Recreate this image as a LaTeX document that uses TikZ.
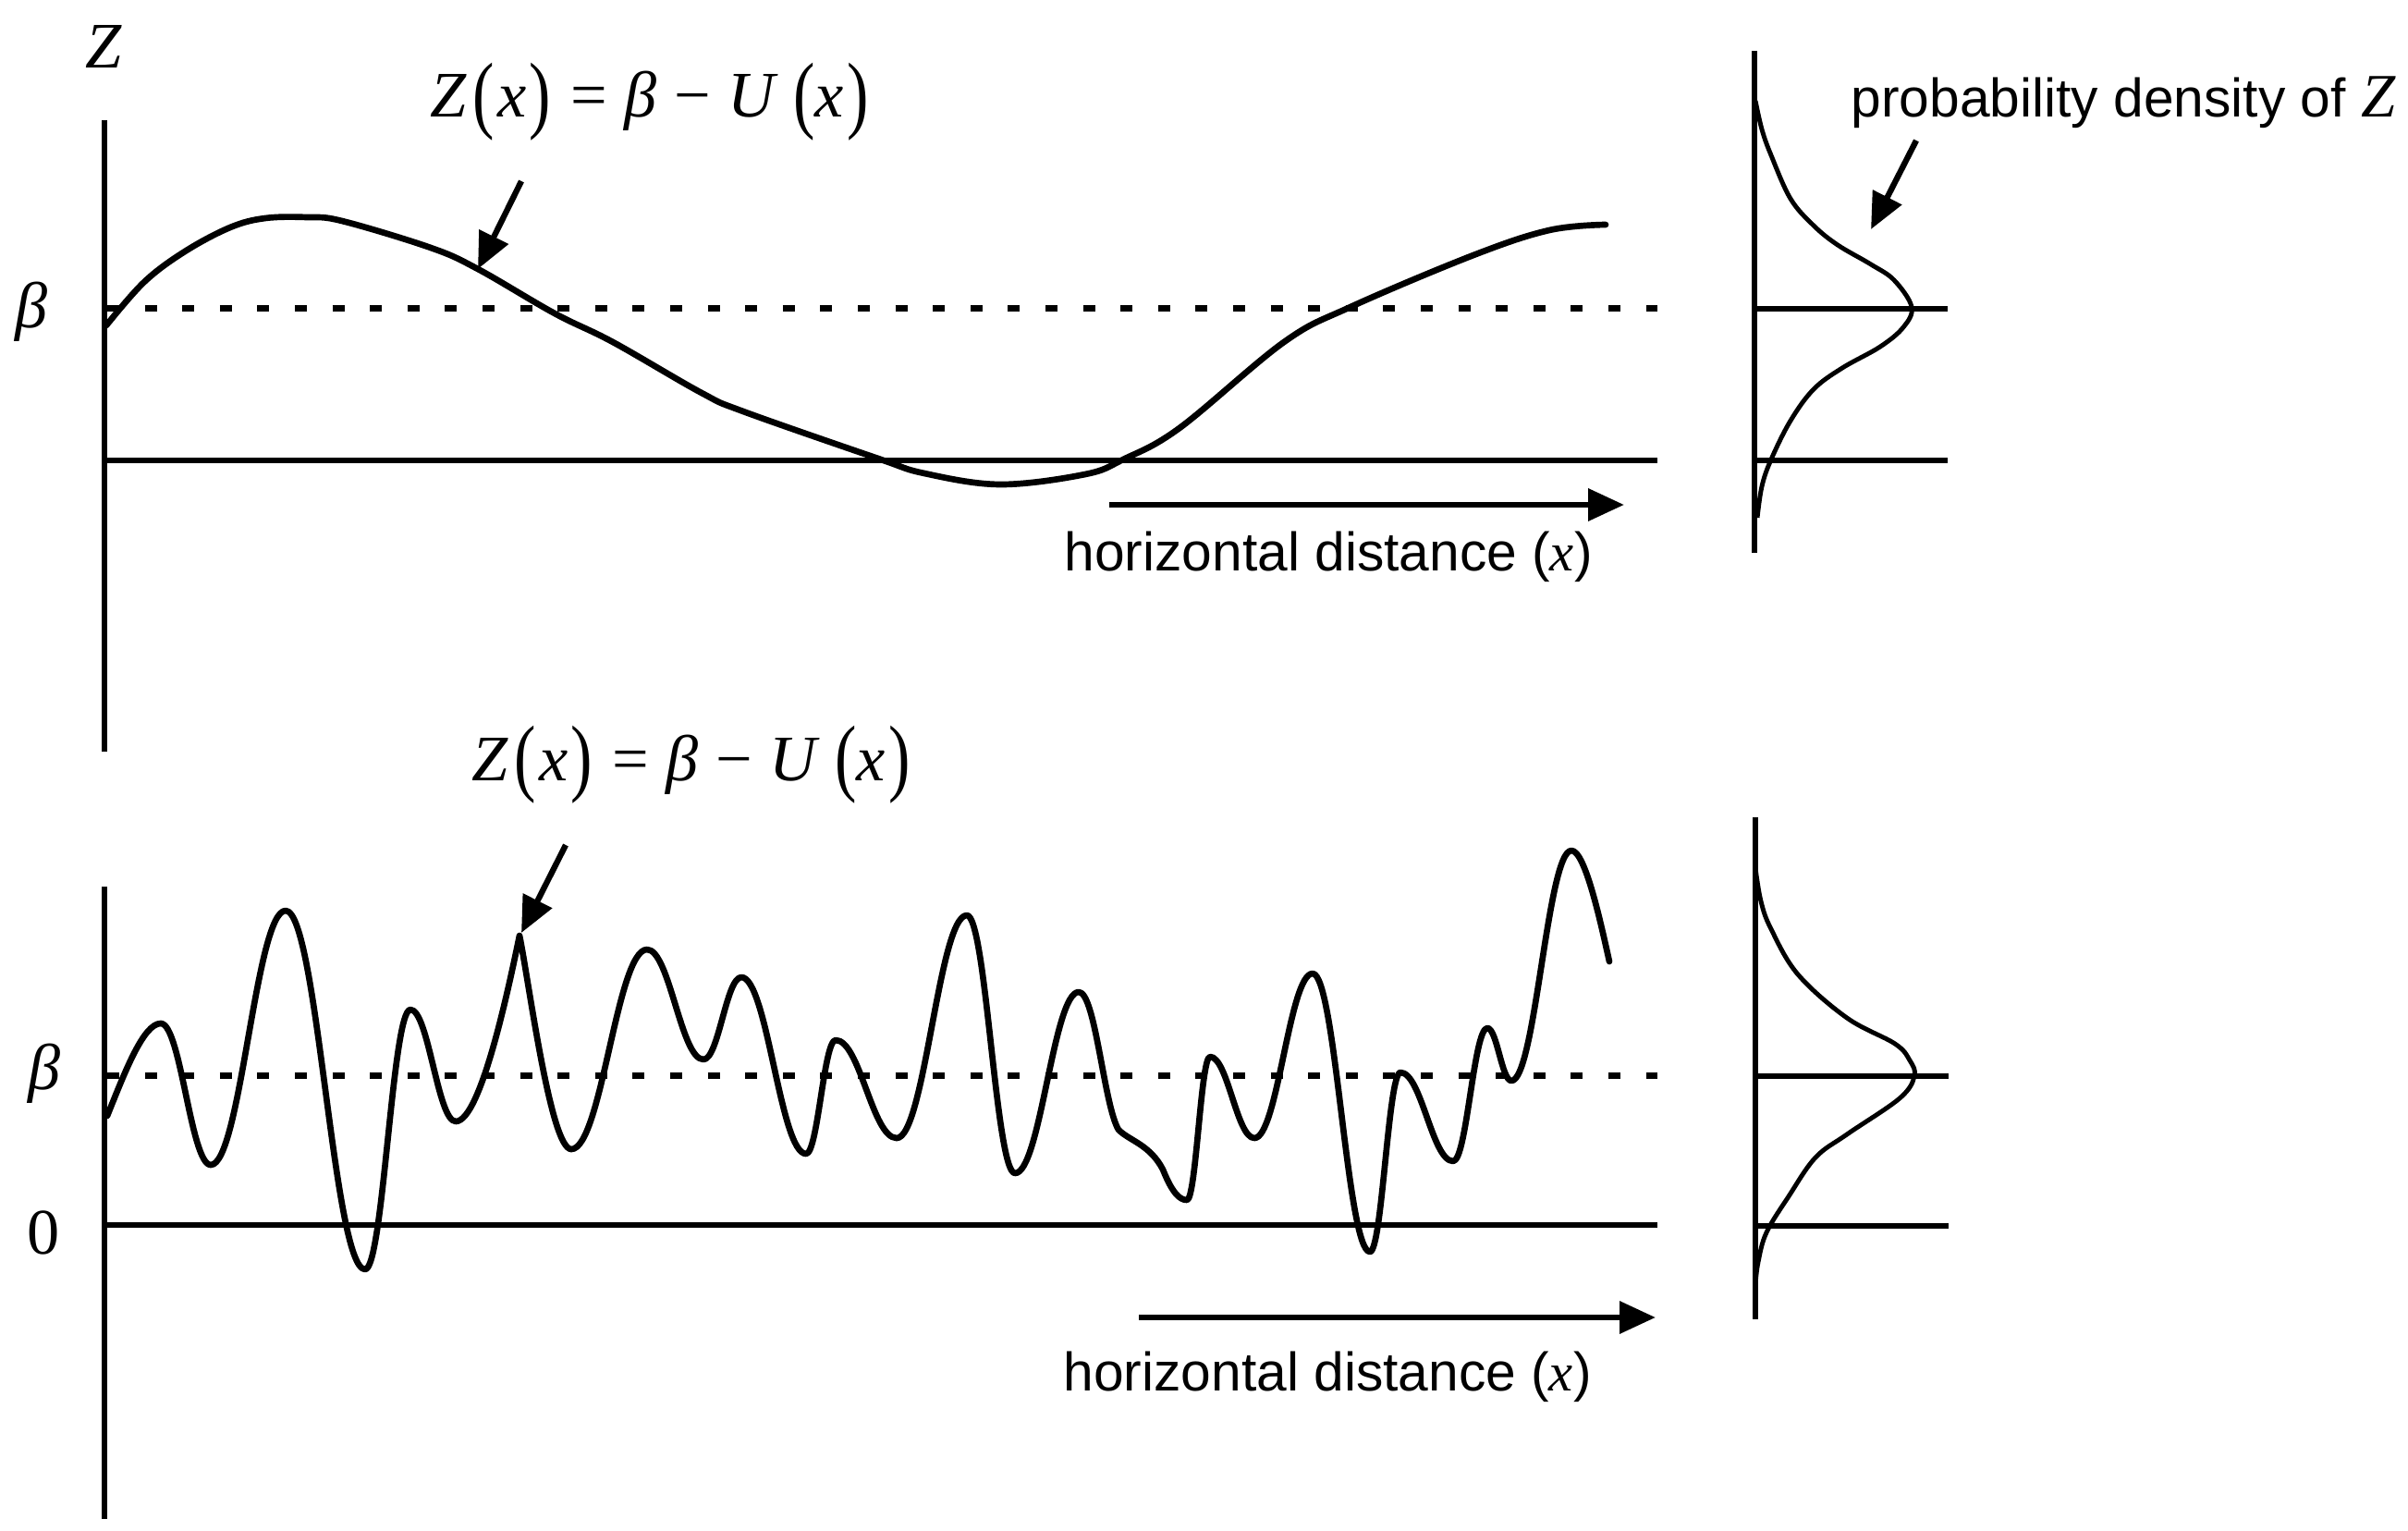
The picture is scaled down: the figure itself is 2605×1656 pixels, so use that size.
\documentclass[tikz,border=0pt]{standalone}
\usepackage{graphicx}
\usepackage{fontspec}
\setmainfont{Liberation Sans}
\newfontfamily\tms{Liberation Serif}
\usetikzlibrary{arrows.meta}
\newcommand{\mi}[1]{{\tms\itshape #1}}
\newcommand{\lpar}{\raisebox{-0.08em}{\scalebox{1}[1.32]{\tms(}}}
\newcommand{\rpar}{\raisebox{-0.08em}{\scalebox{1}[1.32]{\tms)}}}
\newcommand{\formula}{\mi{Z}\hspace{0.1em}\lpar\hspace{0.04em}\mi{x}\hspace{0.05em}\rpar\hspace{0.3em}{\tms =}\hspace{0.26em}\mi{β}\hspace{0.28em}{\tms −}\hspace{0.26em}\mi{U}\hspace{0.28em}\lpar\mi{x}\hspace{0.05em}\rpar}
\begin{document}
\begin{tikzpicture}[x=0.1mm,y=-0.1mm,
  axis/.style={line width=1.7pt},
  thick line/.style={line width=1.9pt},
  curve/.style={line width=1.9pt,line join=round,line cap=round},
  dens/.style={line width=1.4pt},
  dots/.style={line width=0.7mm,dash pattern=on 1.3mm off 2.76mm},
  ptr/.style={line width=1.8pt,-{Triangle[length=3.9mm,width=3.4mm]}},
  lab/.style={font=\fontsize{16.7}{19}\selectfont,inner sep=0,anchor=base west},
  mlab/.style={font=\tms\fontsize{20}{24}\selectfont,inner sep=0}]
\useasboundingbox (0,0) rectangle (2605,1656);

% ---------------- top panel ----------------
\coordinate (tAtop) at (113,130);
\coordinate (tAbot) at (113,813);
\draw[axis] (tAtop) -- (tAbot);
\coordinate (tZ0) at (113,498);
\coordinate (tZ1) at (1793,498);
\draw[axis] (tZ0) -- (tZ1);
\coordinate (tB0) at (116,334);
\coordinate (tB1) at (1793,334);
\draw[dots] (tB0) -- (tB1);
\node[mlab,anchor=base] (zlab) at (112,74) {\mi{Z}};
\node[mlab] (tbeta) at (34,337) {\mi{β}};
\node[mlab,anchor=base west] (tform) at (465,127) {\formula};
\coordinate (tptA) at (564,196);
\coordinate (tptB) at (517,291);
\draw[ptr] (tptA) -- (tptB);
\draw[curve] plot[smooth,tension=0.6] coordinates {(115,352) (156,305) (200,272) (249,246) (287,236) (332,235) (370,239) (466,268) (517,291) (600,339) (663,370) (759,425) (804,445) (950,496) (1000,512) (1082,524) (1174,513) (1215,497) (1276,463) (1389,370) (1461,332) (1594,276) (1676,249) (1737,243)};
\coordinate (thA) at (1200,546);
\coordinate (thB) at (1757,546);
\draw[ptr,line width=1.9pt] (thA) -- (thB);
\node[lab] (thd) at (1151,617) {horizontal distance (\mi{x})};

% top density
\coordinate (tDtop) at (1898,55);
\coordinate (tDbot) at (1898,598);
\draw[axis] (tDtop) -- (tDbot);
\coordinate (tDb0) at (1898,334);
\coordinate (tDb1) at (2107,334);
\draw[thick line] (tDb0) -- (tDb1);
\coordinate (tDz0) at (1898,498);
\coordinate (tDz1) at (2107,498);
\draw[axis] (tDz0) -- (tDz1);
\draw[dens] plot[smooth,tension=0.6] coordinates {(1899,109) (1906,140) (1916,168) (1937,215) (1962,244) (1988,265) (2024,286) (2049,303) (2068,332) (2059,354) (2034,375) (1993,398) (1962,421) (1937,455) (1916,497) (1906,526) (1901,560)};
\node[lab] (pd) at (2002,127) {probability density of {\fontsize{19}{22}\selectfont\mi{Z}}};
\coordinate (pdA) at (2073,152);
\coordinate (pdB) at (2024,248);
\draw[ptr] (pdA) -- (pdB);

% ---------------- bottom panel ----------------
\coordinate (bAtop) at (113,959);
\coordinate (bAbot) at (113,1643);
\draw[axis] (bAtop) -- (bAbot);
\coordinate (bZ0) at (113,1325);
\coordinate (bZ1) at (1793,1325);
\draw[axis] (bZ0) -- (bZ1);
\coordinate (bB0) at (116,1163);
\coordinate (bB1) at (1793,1163);
\draw[dots] (bB0) -- (bB1);
\node[mlab] (bbeta) at (48,1161) {\mi{β}};
\node[mlab] (bzero) at (47,1333) {0};
\node[mlab,anchor=base west] (bform) at (510,844) {\formula};
\coordinate (bptA) at (612,914);
\coordinate (bptB) at (564,1009);
\draw[ptr] (bptA) -- (bptB);
\draw[curve] (116,1207) .. controls (135,1160) and (155,1107) .. (174,1107)
  .. controls (195.6,1107) and (206.4,1260) .. (228,1260)
  .. controls (260.4,1260) and (276.6,985) .. (309,985)
  .. controls (343.4,985) and (360.6,1373) .. (395,1373)
  .. controls (414.6,1373) and (424.4,1092) .. (444,1092)
  .. controls (463.6,1092) and (473.4,1213) .. (493,1213)
  .. controls (520.6,1213) and (552,1060) .. (562,1012)
  .. controls (572,1060) and (595.6,1243) .. (618,1243)
  .. controls (650.8,1243) and (667.2,1027) .. (700,1027)
  .. controls (724.4,1027) and (736.6,1146) .. (761,1146)
  .. controls (777.4,1146) and (785.6,1057) .. (802,1057)
  .. controls (830,1057) and (844,1248) .. (872,1248)
  .. controls (884.8,1248) and (891.2,1125) .. (904,1125)
  .. controls (930.4,1125) and (943.6,1231) .. (970,1231)
  .. controls (1000.4,1231) and (1015.6,990) .. (1046,990)
  .. controls (1066.8,990) and (1077.2,1269) .. (1098,1269)
  .. controls (1125.6,1269) and (1139.4,1073) .. (1167,1073)
  .. controls (1185,1073) and (1194,1195) .. (1210,1222)
  .. controls (1222,1234) and (1244,1238) .. (1258,1265)
  .. controls (1268,1290) and (1276,1298) .. (1284,1298)
  .. controls (1294,1298) and (1299,1143) .. (1309,1143)
  .. controls (1328.2,1143) and (1337.8,1231) .. (1357,1231)
  .. controls (1382.2,1231) and (1394.8,1053) .. (1420,1053)
  .. controls (1444.8,1053) and (1457.2,1354) .. (1482,1354)
  .. controls (1495.2,1354) and (1501.8,1160) .. (1515,1160)
  .. controls (1537.8,1160) and (1549.2,1256) .. (1572,1256)
  .. controls (1586.8,1256) and (1594.2,1112) .. (1609,1112)
  .. controls (1619.4,1112) and (1624.6,1169) .. (1635,1169)
  .. controls (1661,1169) and (1674,920) .. (1700,920)
  .. controls (1715,920) and (1732,1000) .. (1741,1040);
\coordinate (bhA) at (1232,1425);
\coordinate (bhB) at (1791,1425);
\draw[ptr,line width=1.9pt] (bhA) -- (bhB);
\node[lab] (bhd) at (1150,1504) {horizontal distance (\mi{x})};

% bottom density
\coordinate (bDtop) at (1899,884);
\coordinate (bDbot) at (1899,1427);
\draw[axis] (bDtop) -- (bDbot);
\coordinate (bDb0) at (1899,1164);
\coordinate (bDb1) at (2108,1164);
\draw[thick line] (bDb0) -- (bDb1);
\coordinate (bDz0) at (1899,1326);
\coordinate (bDz1) at (2108,1326);
\draw[axis] (bDz0) -- (bDz1);
\draw[dens] plot[smooth,tension=0.6] coordinates {(1899,939) (1905,975) (1916,1005) (1945,1054) (1998,1101) (2050,1129) (2066,1147) (2071,1164) (2055,1188) (1998,1227) (1964,1252) (1935,1294) (1911,1333) (1902,1365) (1899,1389)};
\end{tikzpicture}
\end{document}
